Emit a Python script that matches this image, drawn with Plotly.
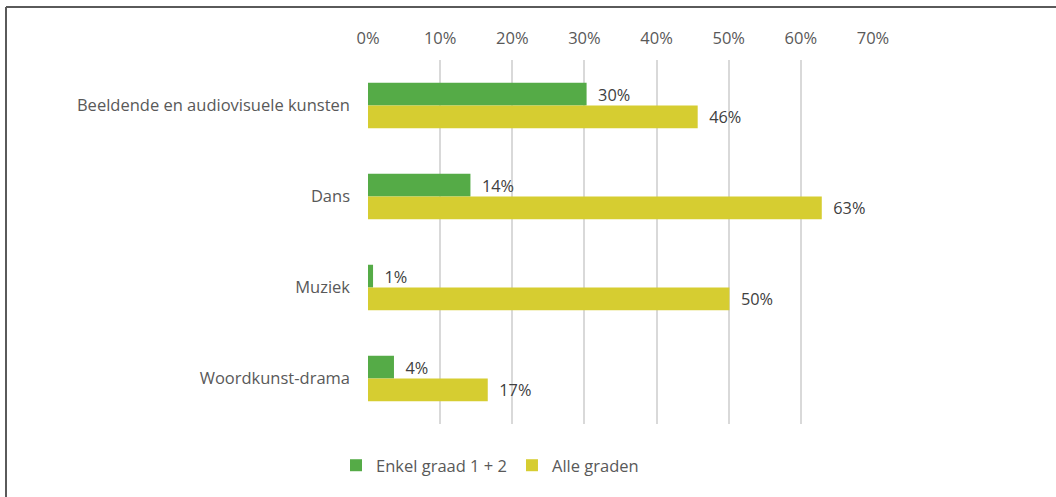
import plotly.graph_objects as go

categories = ["Beeldende en audiovisuele kunsten", "Dans", "Muziek", "Woordkunst-drama"]
enkel_graad = [30.3, 14.2, 0.7, 3.6]
alle_graden = [45.7, 62.9, 50.1, 16.6]
series_names = ["Enkel graad 1 + 2", "Alle graden"]
x_ticks = [0, 10, 20, 30, 40, 50, 60, 70]
x_tick_labels = [f"{v}%" for v in x_ticks]

W, H = 1056, 497
L, R, T, B = 368, 183, 60, 73
pw, ph = W - L - R, H - T - B

def px_x(x):
    return (x - L) / pw

def px_y(y):
    return (H - B - y) / ph

font = "'Open Sans', Lato, sans-serif"
grey = "#595959"
fs = 16.5

fig = go.Figure()
for name, vals, color in [(series_names[0], enkel_graad, "#55AB47"),
                          (series_names[1], alle_graden, "#D6CD31")]:
    fig.add_trace(go.Bar(
        y=categories, x=vals, name=name, orientation="h",
        marker=dict(color=color, line=dict(width=0)),
        text=[f"  {round(v)}%" for v in vals],
        textposition="outside", cliponaxis=False,
        textfont=dict(family=font, size=fs, color="#404040"),
    ))

fig.update_layout(
    width=W, height=H,
    margin=dict(l=L, r=R, t=T, b=B),
    paper_bgcolor="white", plot_bgcolor="white",
    barmode="group", bargap=0.5, bargroupgap=0,
    font=dict(family=font, size=fs, color=grey),
    showlegend=True,
    legend=dict(orientation="h", x=px_x(336), y=px_y(448), xanchor="left", yanchor="top",
                font=dict(family=font, size=fs, color=grey), itemwidth=30,
                traceorder="normal"),
    xaxis=dict(side="top", range=[0, 70], tickvals=x_ticks, ticktext=x_tick_labels,
               showgrid=True, gridcolor="#D9D9D9", gridwidth=2, zeroline=False,
               showline=False, ticks="", ticklabelstandoff=12,
               tickfont=dict(family=font, size=fs, color=grey)),
    yaxis=dict(autorange="reversed", showgrid=False, zeroline=False, showline=False,
               ticks="", ticklabelstandoff=17,
               tickfont=dict(family=font, size=fs, color=grey)),
    shapes=[
        dict(type="line", xref="paper", yref="paper", x0=px_x(6), x1=px_x(1056),
             y0=px_y(7), y1=px_y(7), line=dict(color="#5A5A5A", width=2)),
        dict(type="line", xref="paper", yref="paper", x0=px_x(6), x1=px_x(6),
             y0=px_y(7), y1=px_y(497), line=dict(color="#5A5A5A", width=2)),
    ],
)

fig.write_html("out.html", config={"displayModeBar": False},
               post_script="document.body.style.margin='0';")
